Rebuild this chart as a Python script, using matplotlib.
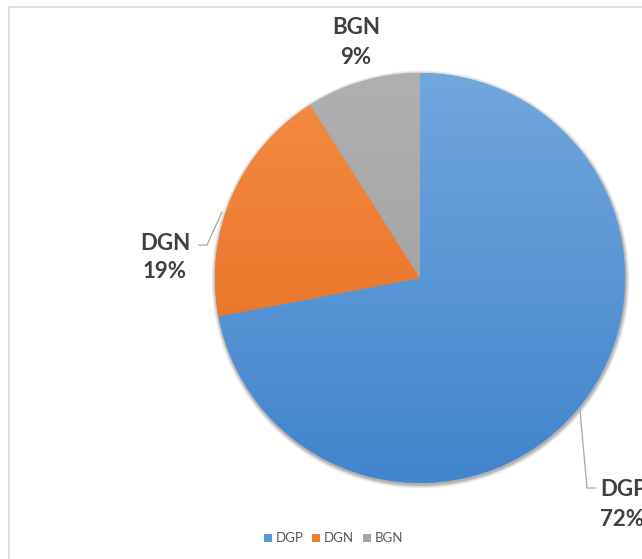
import numpy as np
import matplotlib
matplotlib.use("Agg")
import matplotlib.pyplot as plt
from matplotlib.patches import Rectangle, Circle
from matplotlib.colors import LinearSegmentedColormap

categories = ["DGP", "DGN", "BGN"]
values = [72, 19, 9]
labels = ["72%", "19%", "9%"]
top_colors = ["#70a7dd", "#f48c45", "#b0b0b0"]
bottom_colors = ["#4185cd", "#e4691b", "#9c9c9c"]
legend_colors = ["#5b9bd5", "#ed7d31", "#a5a5a5"]

W, H = 642, 559
fig = plt.figure(figsize=(W / 100, H / 100), dpi=100)
ax = fig.add_axes([0, 0, 1, 1])

def py(y):
    return H - y

cx, cy, r = 420, py(278), 205

# soft shadow
for k, a in [(4, 0.05), (3, 0.07), (2, 0.09), (1, 0.12)]:
    ax.add_patch(Circle((cx + 0.5, cy - 1.5), r + k, color="#000000", alpha=a,
                        lw=0, zorder=0.5))

wedges, _ = ax.pie(values, startangle=90, counterclock=False, center=(cx, cy),
                   radius=r, colors=legend_colors, frame=True,
                   wedgeprops=dict(linewidth=0))

# vertical gradient fill clipped to each wedge
for w, tc, bc in zip(wedges, top_colors, bottom_colors):
    cmap = LinearSegmentedColormap.from_list("g", [bc, tc])
    grad = np.linspace(0, 1, 256).reshape(-1, 1)
    im = ax.imshow(grad, cmap=cmap, extent=(cx - r, cx + r, cy - r, cy + r),
                   origin="lower", aspect="auto", zorder=w.get_zorder() + 0.1)
    im.set_clip_path(w)

ax.set_xlim(0, W)
ax.set_ylim(0, H)
ax.set_aspect("auto")
ax.axis("off")

# chart border
ax.add_patch(Rectangle((8.5, py(700)), 700, py(6.5) - py(700), fill=False,
                       edgecolor="#d9d9d9", linewidth=1.2))

txt_color = "#404040"
fs = 16
fam = "Lato"
# data labels
ax.text(165, py(243), categories[1], ha="center", va="center", fontsize=fs,
        fontweight="bold", color=txt_color, family=fam)
ax.text(165, py(271), labels[1], ha="center", va="center", fontsize=fs,
        fontweight="bold", color=txt_color, family=fam)
ax.text(356, py(28), categories[2], ha="center", va="center", fontsize=fs,
        fontweight="bold", color=txt_color, family=fam)
ax.text(356, py(58), labels[2], ha="center", va="center", fontsize=fs,
        fontweight="bold", color=txt_color, family=fam)
ax.text(600, py(490), categories[0], ha="left", va="center", fontsize=fs,
        fontweight="bold", color=txt_color, family=fam)
ax.text(600, py(520), labels[0], ha="left", va="center", fontsize=fs,
        fontweight="bold", color=txt_color, family=fam)

# leader lines
lc = "#a6a6a6"
ax.plot([199, 207, 222], [py(245), py(245), py(212)], color=lc, lw=0.9)
ax.plot([580, 587, 595], [py(410), py(488), py(488)], color=lc, lw=0.9)

# legend
lx = [264, 312, 363]
for x, c, name in zip(lx, legend_colors, categories):
    ax.add_patch(Rectangle((x, py(542)), 8, 8, color=c, lw=0))
    ax.text(x + 12, py(538.5), name, ha="left", va="center", fontsize=9.5,
            color="#595959", family=fam)

fig.savefig("out.png", dpi=100)
